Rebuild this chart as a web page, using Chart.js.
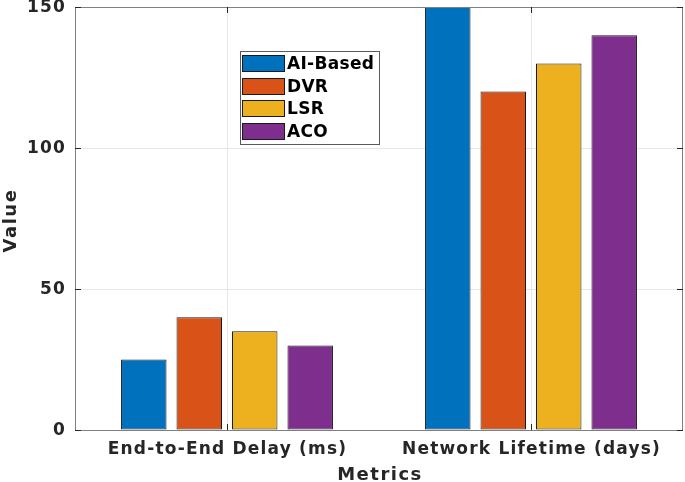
<!DOCTYPE html>
<html>
<head>
<meta charset="utf-8">
<script src="https://cdn.jsdelivr.net/npm/chart.js@4/dist/chart.umd.min.js"></script>
<style>
  html, body { margin: 0; padding: 0; background: #fff; }
  #wrap { width: 685px; height: 482px; }
</style>
</head>
<body>
<div id="wrap"><canvas id="c" width="685" height="482"></canvas></div>
<script>
const categories = ['End-to-End Delay (ms)', 'Network Lifetime (days)'];
const aiBased = [25, 150];
const dvr = [40, 120];
const lsr = [35, 130];
const aco = [30, 140];
const yTicks = [0, 50, 100, 150];

const FONT = "'DejaVu Sans', sans-serif";
const TXT = '#262626';

// text with MATLAB-ish letter spacing (chart.js fonts have no letterSpacing)
function spaced(ctx, text, x, y, sp) {
  ctx.letterSpacing = sp + 'px';
  ctx.fillText(text, x, y);
  ctx.letterSpacing = '0px';
}

// legend box drawn inside the plot
const boxLegend = {
  id: 'boxLegend',
  afterDraw(chart) {
    const ctx = chart.ctx;
    const x = 240, y = 51, w = 139, h = 93;
    ctx.save();
    ctx.fillStyle = '#fff';
    ctx.fillRect(x, y, w, h);
    ctx.strokeStyle = '#5a5a5a';
    ctx.lineWidth = 1;
    ctx.strokeRect(x + 0.5, y + 0.5, w, h);
    ctx.font = 'bold 17px ' + FONT;
    ctx.textBaseline = 'middle';
    ctx.textAlign = 'left';
    chart.data.datasets.forEach((ds, i) => {
      const cy = 63.5 + i * 22.6;
      ctx.fillStyle = ds.backgroundColor;
      ctx.fillRect(242, Math.round(cy - 8.5), 43, 17);
      ctx.strokeStyle = '#1a1a1a';
      ctx.strokeRect(242.5, Math.round(cy - 8.5) + 0.5, 42, 16);
      ctx.fillStyle = '#000';
      spaced(ctx, ds.label, 287, cy + 1, 0.3);
    });
    ctx.restore();
  }
};

// axes frame, inward tick marks, tick labels and titles
const frame = {
  id: 'frame',
  afterDatasetsDraw(chart) {
    const { ctx, chartArea: a, scales } = chart;
    ctx.save();
    ctx.strokeStyle = '#808080';
    ctx.lineWidth = 1;
    ctx.strokeRect(a.left + 0.5, a.top + 0.5, a.right - a.left - 1, a.bottom - a.top);
    ctx.strokeStyle = '#262626';
    ctx.beginPath();
    yTicks.forEach(v => {
      const py = Math.round(scales.y.getPixelForValue(v)) + 0.5;
      ctx.moveTo(a.left, py); ctx.lineTo(a.left + 6, py);
      ctx.moveTo(a.right, py); ctx.lineTo(a.right - 6, py);
    });
    categories.forEach((c, i) => {
      const px = Math.round(scales.x.getPixelForValue(i)) + 0.5;
      ctx.moveTo(px, a.bottom); ctx.lineTo(px, a.bottom - 6);
      ctx.moveTo(px, a.top); ctx.lineTo(px, a.top + 6);
    });
    ctx.stroke();

    ctx.fillStyle = TXT;
    ctx.textBaseline = 'middle';
    ctx.font = 'bold 17px ' + FONT;
    ctx.textAlign = 'right';
    yTicks.forEach(v => {
      spaced(ctx, String(v), a.left - 9, scales.y.getPixelForValue(v) + 0.5, 1.2);
    });
    ctx.textAlign = 'center';
    categories.forEach((c, i) => {
      spaced(ctx, c, scales.x.getPixelForValue(i) + 0.5, a.bottom + 20, 1.2);
    });
    ctx.font = 'bold 18px ' + FONT;
    spaced(ctx, 'Metrics', (a.left + a.right) / 2 + 1, a.bottom + 45, 1.5);
    ctx.translate(11, (a.top + a.bottom) / 2 + 2);
    ctx.rotate(-Math.PI / 2);
    spaced(ctx, 'Value', 0, 0, 1.5);
    ctx.restore();
  }
};

const mk = (label, data, color) => ({
  label, data,
  backgroundColor: color,
  borderColor: '#1a1a1a',
  borderWidth: 1,
  borderSkipped: false,
  barPercentage: 0.82,
  categoryPercentage: 0.73,
});

new Chart(document.getElementById('c'), {
  type: 'bar',
  data: {
    labels: categories,
    datasets: [
      mk('AI-Based', aiBased, '#0072BD'),
      mk('DVR', dvr, '#D95319'),
      mk('LSR', lsr, '#EDB120'),
      mk('ACO', aco, '#7E2F8E'),
    ],
  },
  options: {
    responsive: false,
    animation: false,
    layout: { padding: { top: 7, right: 2, left: 0, bottom: 0 } },
    plugins: {
      legend: { display: false },
      tooltip: { enabled: false },
    },
    scales: {
      x: {
        grid: { color: '#e6e6e6', drawTicks: false, offset: false },
        border: { display: false },
        ticks: { display: false },
        afterFit(s) { s.height = 52; s.paddingLeft = 0; s.paddingRight = 0; },
      },
      y: {
        min: 0, max: 150,
        afterBuildTicks(s) { s.ticks = yTicks.map(v => ({ value: v })); },
        grid: { color: '#e6e6e6', drawTicks: false },
        border: { display: false },
        ticks: { display: false },
        afterFit(s) { s.width = 75; s.paddingTop = 0; s.paddingBottom = 0; },
      },
    },
  },
  plugins: [frame, boxLegend],
});
</script>
</body>
</html>
